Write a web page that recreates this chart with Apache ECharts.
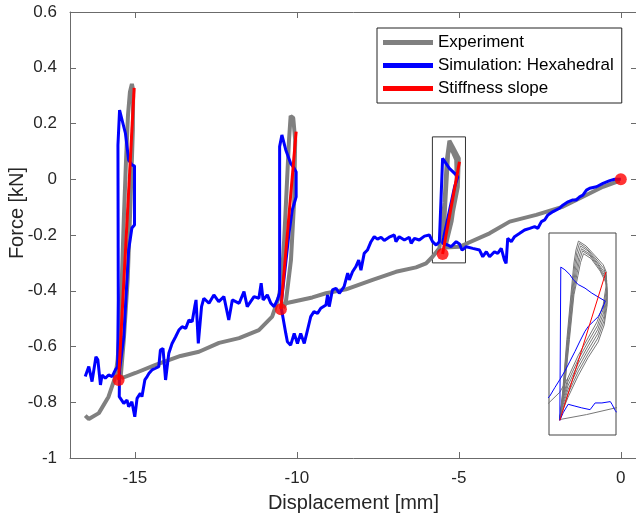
<!DOCTYPE html>
<html>
<head>
<meta charset="utf-8">
<script src="https://cdn.jsdelivr.net/npm/echarts@6/dist/echarts.min.js"></script>
<style>html,body{margin:0;padding:0;background:#fff}#c{width:636px;height:517px}</style>
</head>
<body>
<div id="c"></div>
<script>
// ---- tick labels ----
const xTicks = [-15, -10, -5, 0];
const yTicks = [-1, -0.8, -0.6, -0.4, -0.2, 0, 0.2, 0.4, 0.6];

// ---- Experiment (displacement mm, force kN) ----
const expDisp = [-16.53,-16.42,-16.11,-15.81,-15.60,-15.53,-15.47,-15.40,-15.34,-15.27,-15.21,-15.15,-15.09,-15.05,-15.06,-15.13,-15.22,-15.34,-15.43,-15.39,
  -14.98,-14.36,-13.59,-13.02,-12.40,-11.78,-11.17,-10.76,-10.55,-10.46,-10.39,-10.30,-10.24,-10.19,-10.11,-10.05,-10.08,-10.18,-10.33,-10.42,
  -10.34,-9.52,-9.10,-8.48,-7.66,-6.94,-6.32,-6.01,-5.81,-5.60,
  -5.44,-5.37,-5.29,-5.19,-5.00,-5.03,-5.19,-5.39,
  -5.47,-5.40,-5.33,-5.27,-5.08,-5.06,-5.22,-5.42,
  -4.98,-4.05,-3.43,-2.61,-1.78,-1.17,-0.55,-0.13,-0.03];
const expForce = [-0.848,-0.860,-0.839,-0.780,-0.708,-0.648,-0.541,-0.361,-0.146,0.069,0.230,0.313,0.342,0.320,0.177,-0.074,-0.361,-0.577,-0.702,-0.713,
  -0.695,-0.666,-0.634,-0.619,-0.587,-0.570,-0.541,-0.493,-0.421,-0.350,-0.218,-0.003,0.141,0.227,0.220,0.141,-0.074,-0.290,-0.433,-0.462,
  -0.445,-0.424,-0.409,-0.395,-0.361,-0.332,-0.316,-0.302,-0.278,-0.248,
  -0.085,0.069,0.138,0.117,0.075,-0.027,-0.122,-0.206,
  -0.200,-0.050,0.090,0.120,0.070,-0.020,-0.150,-0.245,
  -0.242,-0.194,-0.152,-0.128,-0.098,-0.063,-0.027,-0.009,-0.006];

// ---- Simulation: Hexahedral ----
const simDisp = [-16.53,-16.42,-16.32,-16.20,-16.14,-16.06,-16.01,-15.91,-15.81,-15.70,-15.60,-15.53,
  -15.51,-15.52,-15.47,-15.29,-15.19,-15.08,-15.01,-15.01,-15.09,-15.19,-15.34,-15.47,
  -15.48,-15.34,-15.24,-15.19,-15.09,-15.00,-14.93,-14.83,-14.78,-14.69,-14.62,-14.56,-14.47,-14.36,-14.26,-14.21,
  -14.13,-14.05,-13.95,-13.85,-13.74,-13.64,-13.54,-13.43,-13.33,-13.23,-13.15,-13.11,-13.04,-12.94,-12.87,-12.71,
  -12.56,-12.41,-12.25,-12.10,-11.99,-11.78,-11.63,-11.53,-11.32,-11.17,-11.10,-11.04,-10.91,-10.80,-10.70,-10.60,-10.53,
  -10.53,-10.46,-10.34,-10.19,-10.08,-10.02,-10.02,-10.14,-10.24,-10.49,
  -10.45,-10.34,-10.29,-10.19,-10.08,-9.98,-9.88,-9.77,-9.67,-9.57,-9.47,-9.36,-9.26,-9.10,-9.05,-9.00,-8.90,-8.79,-8.69,
  -8.54,-8.43,-8.38,-8.28,-8.18,-8.09,-8.02,-7.92,-7.82,-7.71,-7.61,-7.51,-7.40,-7.30,-7.15,-6.99,-6.94,-6.84,-6.68,
  -6.53,-6.47,-6.37,-6.22,-6.06,-5.91,-5.81,-5.70,-5.60,
  -5.50,-5.29,-5.13,-5.03,-5.13,-5.44,-5.50,
  -5.34,-5.24,-5.08,-4.98,-4.90,-4.77,-4.57,-4.36,-4.26,-4.15,-4.05,-3.90,-3.80,-3.69,-3.59,-3.54,-3.49,-3.38,-3.28,
  -3.12,-2.97,-2.81,-2.66,-2.56,-2.45,-2.35,-2.25,-2.09,-1.89,-1.78,-1.63,-1.48,-1.37,-1.27,-1.17,-1.06,-0.96,-0.75,
  -0.55,-0.34,-0.19,0];
const simForce = [-0.708,-0.672,-0.726,-0.637,-0.648,-0.738,-0.702,-0.714,-0.702,-0.708,-0.684,-0.672,
  -0.433,0.123,0.248,0.165,0.069,0.051,0.048,-0.164,-0.175,-0.254,-0.565,-0.684,
  -0.780,-0.804,-0.792,-0.816,-0.798,-0.852,-0.786,-0.768,-0.780,-0.720,-0.708,-0.696,-0.684,-0.678,-0.672,-0.613,
  -0.607,-0.720,-0.624,-0.589,-0.565,-0.541,-0.529,-0.535,-0.505,-0.511,-0.457,-0.433,-0.589,-0.457,-0.427,-0.445,
  -0.415,-0.439,-0.421,-0.505,-0.433,-0.445,-0.403,-0.457,-0.421,-0.427,-0.373,-0.433,-0.415,-0.445,-0.457,-0.433,-0.408,
  0.117,0.159,0.105,0.057,0.039,0.026,-0.063,-0.110,-0.193,-0.457,
  -0.481,-0.553,-0.583,-0.595,-0.553,-0.589,-0.553,-0.589,-0.541,-0.493,-0.475,-0.481,-0.463,-0.451,-0.415,-0.457,-0.397,-0.391,-0.409,
  -0.385,-0.337,-0.361,-0.332,-0.314,-0.290,-0.326,-0.266,-0.254,-0.224,-0.206,-0.215,-0.208,-0.220,-0.208,-0.200,-0.224,-0.206,-0.218,
  -0.208,-0.230,-0.212,-0.218,-0.204,-0.200,-0.224,-0.236,-0.224,
  0.075,0.039,0.021,0.009,-0.027,-0.194,-0.230,
  -0.236,-0.242,-0.224,-0.232,-0.254,-0.242,-0.248,-0.254,-0.278,-0.260,-0.278,-0.260,-0.266,-0.248,-0.290,-0.302,-0.212,-0.224,-0.206,
  -0.194,-0.182,-0.176,-0.170,-0.176,-0.152,-0.146,-0.128,-0.116,-0.104,-0.092,-0.081,-0.074,-0.074,-0.063,-0.057,-0.039,-0.032,-0.027,
  -0.015,-0.005,0.000,0];

// ---- Stiffness slope segments [start, end] ----
const slopeDisp = [[-15.50, -15.02], [-10.49, -10.02], [-5.50, -4.98]];
const slopeForce = [[-0.720, 0.328], [-0.466, 0.171], [-0.268, 0.063]];
const dotDisp = [-15.50, -10.49, -5.50, 0];
const dotForce = [-0.720, -0.466, -0.268, 0];

// ---- zoom rectangle around third cycle ----
const zoomDisp = [-5.815, -4.794];
const zoomForce = [-0.300, 0.152];
const insetDisp = [-5.622, -4.867];
const insetForce = [-0.3005, 0.150];

// ---- inset: experiment cycles (each loop) ----
const insetExpLoops = [
  { d: [-5.500,-5.466,-5.421,-5.375,-5.341,-5.318,-5.290,-5.204,-5.102,-5.011,-4.977,-4.977,-5.011,-5.080,-5.182,-5.295,-5.409,-5.478,-5.500],
    f: [-0.266,-0.200,-0.088,0.012,0.083,0.112,0.132,0.121,0.099,0.079,0.063,0.034,-0.010,-0.048,-0.084,-0.124,-0.173,-0.229,-0.266] },
  { d: [-5.500,-5.463,-5.415,-5.368,-5.332,-5.308,-5.278,-5.193,-5.091,-5.005,-4.975,-4.975,-5.009,-5.077,-5.182,-5.295,-5.409,-5.478,-5.500],
    f: [-0.266,-0.200,-0.088,0.012,0.078,0.107,0.127,0.115,0.092,0.071,0.054,0.025,-0.019,-0.057,-0.093,-0.133,-0.182,-0.233,-0.266] },
  { d: [-5.500,-5.459,-5.409,-5.361,-5.323,-5.298,-5.267,-5.182,-5.080,-5.000,-4.972,-4.972,-5.007,-5.075,-5.182,-5.295,-5.409,-5.478,-5.500],
    f: [-0.266,-0.200,-0.088,0.012,0.072,0.101,0.121,0.110,0.085,0.063,0.045,0.016,-0.028,-0.066,-0.102,-0.142,-0.191,-0.238,-0.266] },
  { d: [-5.500,-5.456,-5.404,-5.355,-5.314,-5.287,-5.256,-5.170,-5.068,-4.994,-4.970,-4.970,-5.004,-5.073,-5.182,-5.295,-5.409,-5.478,-5.500],
    f: [-0.266,-0.200,-0.088,0.012,0.066,0.095,0.115,0.104,0.079,0.055,0.036,0.007,-0.037,-0.075,-0.111,-0.151,-0.200,-0.242,-0.266] },
  { d: [-5.500,-5.452,-5.398,-5.348,-5.305,-5.277,-5.244,-5.159,-5.057,-4.988,-4.968,-4.968,-5.002,-5.071,-5.182,-5.295,-5.409,-5.478,-5.500],
    f: [-0.266,-0.200,-0.088,0.012,0.061,0.090,0.110,0.099,0.072,0.048,0.027,-0.002,-0.046,-0.084,-0.120,-0.160,-0.209,-0.247,-0.266] },
  { d: [-5.500,-5.449,-5.392,-5.341,-5.296,-5.267,-5.233,-5.148,-5.045,-4.983,-4.966,-4.966,-5.000,-5.068,-5.182,-5.295,-5.409,-5.478,-5.500],
    f: [-0.266,-0.200,-0.088,0.012,0.055,0.084,0.104,0.093,0.065,0.040,0.019,-0.010,-0.055,-0.093,-0.128,-0.169,-0.217,-0.251,-0.266] }
];
const insetExpIn = { d: [-5.640, -5.500, -5.409], f: [-0.232, -0.205, -0.173] };
const insetExpOut = { d: [-5.500, -5.200, -4.850], f: [-0.266, -0.255, -0.239] };

// ---- inset: simulation ----
const insetSimDisp = [-5.640,-5.614,-5.557,-5.500,-5.443,-5.386,-5.329,-5.273,-5.216,-5.178,-5.121,-5.065,-5.026,-4.988,-4.977,
  -5.065,-5.140,-5.216,-5.292,-5.349,-5.386,-5.443,-5.489,-5.500,-5.463,-5.406,-5.330,-5.253,-5.159,-5.102,-5.026,-4.931,-4.912,-4.875,-4.860];
const insetSimForce = [-0.219,-0.214,-0.195,-0.177,-0.158,-0.136,-0.114,-0.091,-0.069,-0.058,-0.047,-0.036,-0.021,-0.002,0.001,
  0.007,0.016,0.027,0.035,0.046,0.057,0.068,0.074,-0.268,-0.251,-0.232,-0.236,-0.240,-0.244,-0.229,-0.229,-0.226,-0.232,-0.246,-0.250];
const insetSlopeDisp = [-5.50, -4.98];
const insetSlopeForce = [-0.268, 0.063];

// ---- build ----
const zip = (a, b) => a.map((v, i) => [v, b[i]]);
const GRAY = '#808080', BLUE = '#0000ff', RED = '#ff0000';
const FONT = 'Liberation Sans, Arial, sans-serif';
const TXT = '#262626', AX = '#6b6b6b';

const series = [];
series.push({
  name: 'Experiment', type: 'line', data: zip(expDisp, expForce), showSymbol: false, symbol: 'none',
  lineStyle: { color: GRAY, width: 4 }, itemStyle: { color: GRAY }, z: 2,
  markArea: { silent: true, itemStyle: { color: 'rgba(0,0,0,0)', borderColor: '#333', borderWidth: 1 },
    data: [[{ coord: [zoomDisp[0], zoomForce[1]] }, { coord: [zoomDisp[1], zoomForce[0]] }]] }
});
series.push({
  name: 'Simulation: Hexahedral', type: 'line', data: zip(simDisp, simForce), showSymbol: false, symbol: 'none',
  lineStyle: { color: BLUE, width: 3 }, itemStyle: { color: BLUE }, z: 3
});
slopeDisp.forEach((d, i) => series.push({
  name: 'Stiffness slope', type: 'line', data: zip(d, slopeForce[i]), showSymbol: false, symbol: 'none',
  lineStyle: { color: RED, width: 3 }, itemStyle: { color: RED }, z: 4
}));
series.push({
  name: 'points', type: 'scatter', data: zip(dotDisp, dotForce), symbolSize: 12,
  itemStyle: { color: RED }, z: 5
});
// inset
insetExpLoops.concat([insetExpIn, insetExpOut]).forEach(l => series.push({
  name: 'inset-exp', type: 'line', xAxisIndex: 2, yAxisIndex: 2, data: zip(l.d, l.f), showSymbol: false, symbol: 'none',
  lineStyle: { color: '#777', width: 1 }, z: 6
}));
series.push({
  name: 'inset-sim', type: 'line', xAxisIndex: 2, yAxisIndex: 2, data: zip(insetSimDisp, insetSimForce), showSymbol: false, symbol: 'none',
  lineStyle: { color: BLUE, width: 1 }, z: 7
});
series.push({
  name: 'inset-slope', type: 'line', xAxisIndex: 2, yAxisIndex: 2, data: zip(insetSlopeDisp, insetSlopeForce), showSymbol: false, symbol: 'none',
  lineStyle: { color: RED, width: 1 }, z: 8
});

const tickCommon = { show: true, inside: true, length: 6, lineStyle: { color: AX, width: 1 } };
const option = {
  animation: false,
  backgroundColor: '#fff',
  textStyle: { fontFamily: FONT },
  grid: [
    { left: 70, top: 12, width: 567, height: 446, show: false, containLabel: false, outerBoundsMode: 'none' },
    { left: 549, top: 233, width: 67, height: 202, show: true, backgroundColor: '#fff', borderColor: '#444', borderWidth: 1, z: 1,
      containLabel: false, outerBoundsMode: 'none' }
  ],
  graphic: [{
    type: 'text', x: 17, y: 213, rotation: Math.PI / 2,
    style: { text: 'Force [kN]', fontFamily: FONT, fontSize: 20, fill: TXT, align: 'center', verticalAlign: 'middle' }
  }],
  legend: {
    left: 377, top: 28, orient: 'vertical', padding: [6, 8, 6, 6], itemGap: 6,
    itemWidth: 50, itemHeight: 5, borderColor: '#222', borderWidth: 1, backgroundColor: '#fff',
    textStyle: { fontFamily: FONT, fontSize: 17, color: '#000', lineHeight: 17 },
    data: [
      { name: 'Experiment', icon: 'rect', itemStyle: { color: GRAY } },
      { name: 'Simulation: Hexahedral', icon: 'rect', itemStyle: { color: BLUE } },
      { name: 'Stiffness slope', icon: 'rect', itemStyle: { color: RED } }
    ],
    selectedMode: false
  },
  xAxis: [
    { type: 'value', gridIndex: 0, min: -17, max: 0.5, position: 'bottom',
      name: 'Displacement [mm]', nameLocation: 'middle', nameGap: 35,
      nameTextStyle: { fontFamily: FONT, fontSize: 20, color: TXT },
      axisLine: { show: true, onZero: false, lineStyle: { color: AX, width: 1 } },
      axisTick: Object.assign({ customValues: xTicks }, tickCommon),
      axisLabel: { customValues: xTicks, margin: 12, fontFamily: FONT, fontSize: 17, color: TXT },
      splitLine: { show: false } },
    { type: 'value', gridIndex: 0, min: -17, max: 0.5, position: 'top',
      axisLine: { show: true, onZero: false, lineStyle: { color: AX, width: 1 } },
      axisTick: Object.assign({ customValues: xTicks }, tickCommon),
      axisLabel: { show: false }, splitLine: { show: false } },
    { type: 'value', gridIndex: 1, min: insetDisp[0], max: insetDisp[1], show: false }
  ],
  yAxis: [
    { type: 'value', gridIndex: 0, min: -1, max: 0.6, position: 'left',
      axisLine: { show: true, onZero: false, lineStyle: { color: AX, width: 1 } },
      axisTick: Object.assign({ customValues: yTicks }, tickCommon),
      axisLabel: { customValues: yTicks, margin: 13, fontFamily: FONT, fontSize: 17, color: TXT },
      splitLine: { show: false } },
    { type: 'value', gridIndex: 0, min: -1, max: 0.6, position: 'right',
      axisLine: { show: true, onZero: false, lineStyle: { color: AX, width: 1 } },
      axisTick: Object.assign({ customValues: yTicks }, tickCommon),
      axisLabel: { show: false }, splitLine: { show: false } },
    { type: 'value', gridIndex: 1, min: insetForce[0], max: insetForce[1], show: false }
  ],
  series: series
};
const chart = echarts.init(document.getElementById('c'), null, { renderer: 'canvas' });
chart.setOption(option);
</script>
</body>
</html>
